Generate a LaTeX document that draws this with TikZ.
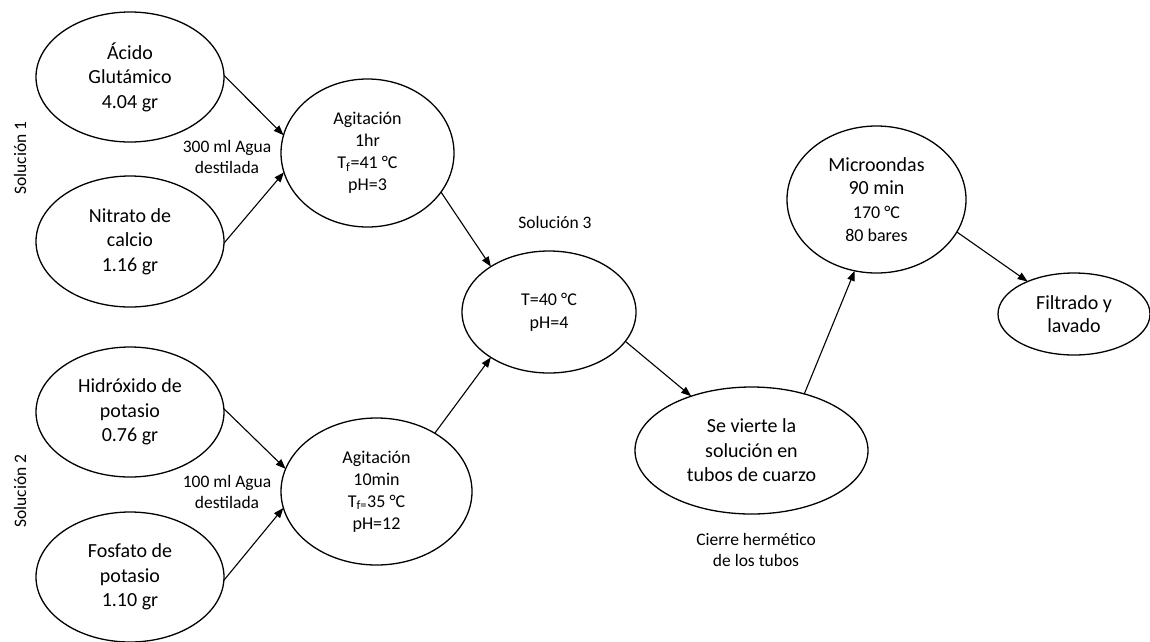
\documentclass[tikz,border=0pt]{standalone}
\usepackage{fontspec}
\setmainfont{Carlito}
\usetikzlibrary{shapes.geometric,arrows.meta}
\begin{document}
\begin{tikzpicture}[x=1pt,y=-1pt,
  oval/.style={ellipse,draw,line width=1.3pt,inner sep=0pt,outer sep=0pt,align=center},
  big/.style={font=\fontsize{20}{24.5}\selectfont},
  mid/.style={font=\fontsize{18}{22}\selectfont},
  lbl/.style={align=center,font=\fontsize{17.5}{21}\selectfont},
  arr/.style={line width=1.1pt,-{Triangle[length=10pt,width=7.5pt]}}]
\useasboundingbox (0,0) rectangle (1150,641);

% left column
\node[oval,big,minimum width=188pt,minimum height=130pt] (acido) at (130,77) {Ácido\\Glutámico\\4.04 gr};
\node[oval,big,minimum width=188pt,minimum height=131pt] (nitrato) at (130,241.5) {Nitrato de\\calcio\\1.16 gr};
\node[oval,big,minimum width=188pt,minimum height=130pt] (hidrox) at (130,412) {Hidróxido de\\potasio\\0.76 gr};
\node[oval,big,minimum width=188pt,minimum height=130pt] (fosfato) at (130,577) {Fosfato de\\potasio\\1.10 gr};

% agitation
\node[oval,mid,minimum width=173pt,minimum height=148pt] (agit1) at (367.5,153) {Agitación\\1hr\\T\textsubscript{f}=41 °C\\pH=3};
\node[oval,mid,minimum width=191pt,minimum height=147pt] (agit2) at (376.5,491.5) {Agitación\\10min\\T\textsubscript{f=}35 °C\\pH=12};

% middle
\node[oval,mid,minimum width=174pt,minimum height=122pt,font=\fontsize{18}{23}\selectfont] (sol3) at (549,312) {T=40 °C\\pH=4};
\node[oval,big,minimum width=233pt,minimum height=127pt] (vierte) at (751.5,450.5) {Se vierte la\\solución en\\tubos de cuarzo};
\node[oval,minimum width=179pt,minimum height=147pt,font=\fontsize{20}{23.5}\selectfont] (micro) at (876.5,199.5) {Microondas\\90 min\\{\fontsize{18}{22}\selectfont 170 °C}\\{\fontsize{18}{22}\selectfont 80 bares}};
\node[oval,minimum width=152pt,minimum height=82pt,font=\fontsize{20}{23}\selectfont] (filtrado) at (1074,314) {Filtrado y\\lavado};

% labels
\node[lbl,rotate=90] (s1) at (20,158) {Solución 1};
\node[lbl,rotate=90] (s2) at (20,491) {Solución 2};
\node[lbl] (agua1) at (227,157) {300 ml Agua\\destilada};
\node[lbl] (agua2) at (227,492) {100 ml Agua\\destilada};
\node[lbl] (s3) at (555,222) {Solución 3};
\node[lbl] (cierre) at (756,550) {Cierre hermético\\de los tubos};

% arrows
\draw[arr] (acido.1) -- (agit1.168);
\draw[arr] (nitrato.359) -- (agit1.193);
\draw[arr] (hidrox.2) -- (agit2.166);
\draw[arr] (fosfato.358) -- (agit2.190);
\draw[arr] (agit1.332) -- (sol3.142);
\draw[arr] (agit2.45) -- (sol3.218);
\draw[arr] (sol3.339) -- (vierte.138);
\draw[arr] (vierte.47) -- (micro.253);
\draw[arr] (micro.338) -- (filtrado.145);
\end{tikzpicture}
\end{document}
